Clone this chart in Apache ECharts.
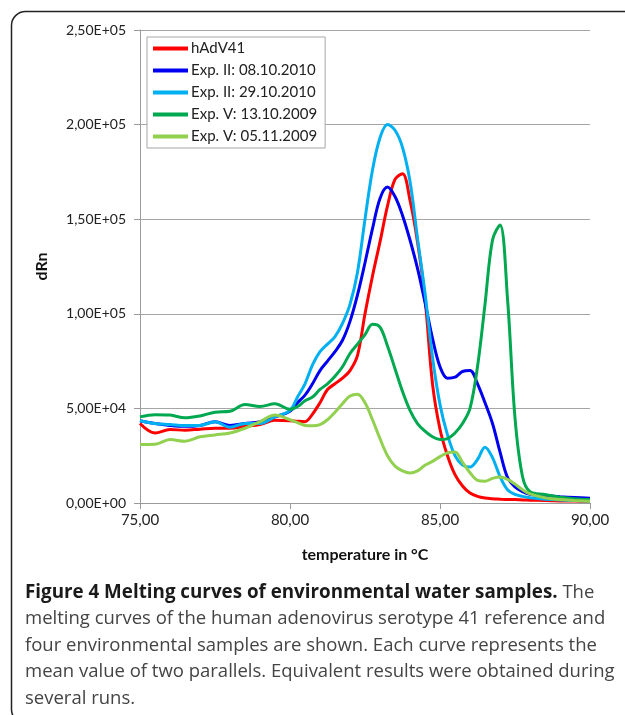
<!DOCTYPE html>
<html>
<head>
<meta charset="utf-8">
<script src="https://cdn.jsdelivr.net/npm/echarts@6/dist/echarts.min.js"></script>
<style>
  html, body { margin: 0; padding: 0; background: #fff; }
  #chart { width: 625px; height: 715px; }
</style>
</head>
<body>
<div id="chart"></div>
<script>
  // temperature grid (°C), shared by every curve
  const temps = [
    75, 75.5, 76, 76.5, 77, 77.5, 78, 78.5, 79, 79.5,
    80, 80.25, 80.5, 80.75, 81, 81.25, 81.5, 81.75, 82, 82.25, 82.5, 82.75,
    83, 83.25, 83.5, 83.75, 84, 84.25, 84.5, 84.75, 85, 85.25, 85.5, 85.75,
    86, 86.25, 86.5, 86.75, 87, 87.25, 87.5, 87.75, 88, 88.5, 89, 89.5, 90
  ];

  const seriesNames = [
    "hAdV41",
    "Exp. II: 08.10.2010",
    "Exp. II: 29.10.2010",
    "Exp. V: 13.10.2009",
    "Exp. V: 05.11.2009"
  ];
  const colorList = ["#ff0000", "#0000f0", "#00b0f0", "#00a850", "#92d050"];

  // dRn values
  const hadv41 = [
    42000, 37000, 38800, 38500, 39000, 39500, 39500, 40500, 41500, 43700,
    43500, 43200, 43000, 47000, 53000, 60000, 63000, 66000, 70000, 78000, 100000, 120000,
    138000, 157000, 171000, 174000, 160000, 138000, 108000, 63000, 39000, 25000, 15000, 9000,
    5300, 3500, 2600, 2200, 2000, 1800, 1800, 1600, 1500, 1300, 1100, 1000, 900
  ];
  const exp2a = [
    43500, 42000, 41000, 40500, 41000, 43000, 41000, 42000, 43000, 45500,
    48500, 53000, 57000, 63000, 70000, 75000, 80000, 86000, 96000, 110000, 127000, 145000,
    161000, 167000, 162000, 152000, 139000, 124000, 106000, 87000, 72000, 66000, 66500, 69500,
    70000, 63000, 53000, 42000, 27000, 13500, 8500, 6000, 4600, 3800, 3300, 2900, 2500
  ];
  const exp2b = [
    43500, 42000, 41500, 41000, 41000, 43000, 40000, 42000, 42000, 45500,
    49000, 56000, 63000, 73000, 80000, 84000, 88000, 95000, 105000, 122000, 150000, 176000,
    193000, 200000, 197000, 188000, 170000, 140000, 111000, 77000, 52000, 36000, 25000, 20000,
    19000, 23000, 29500, 24000, 14000, 7000, 4500, 3500, 2800, 2000, 1600, 1300, 1000
  ];
  const exp5a = [
    45500, 46700, 46500, 45000, 46000, 48000, 48500, 52000, 51000, 52500,
    49500, 51000, 54000, 56000, 60000, 63000, 67000, 72000, 79000, 84000, 89000, 94500,
    93000, 83000, 71000, 59000, 49000, 42000, 38000, 35000, 33500, 34000, 37000, 42000,
    50000, 72000, 105000, 139000, 147000, 108000, 45000, 14000, 6000, 4500, 3000, 2300, 1800
  ];
  const exp5b = [
    30900, 31000, 33500, 32600, 35000, 36000, 37000, 39500, 43000, 46500,
    44000, 42500, 41000, 40800, 41400, 44000, 48000, 52500, 56500, 57500, 53000, 44000,
    34000, 25000, 19500, 17000, 15800, 17000, 20000, 22000, 24500, 26500, 27000, 21500,
    16000, 12000, 11500, 13000, 13700, 12500, 10000, 7000, 4800, 2800, 1800, 1300, 900
  ];
  const yData = [hadv41, exp2a, exp2b, exp5a, exp5b];

  const xTickMin = 75;
  const xTickMax = 90;
  const xTickStep = 5;
  const yTickMax = 250000;
  const yTickStep = 50000;

  const captionLines = [
    "{b|Figure 4 Melting curves of environmental water samples.} The",
    "melting curves of the human adenovirus serotype 41 reference and",
    "four environmental samples are shown. Each curve represents the",
    "mean value of two parallels. Equivalent results were obtained during",
    "several runs."
  ];

  const sciLabel = v => {
    if (v === 0) return "0,00E+00";
    const e = Math.floor(Math.log10(v));
    const m = v / Math.pow(10, e);
    return m.toFixed(2).replace(".", ",") + "E+" + String(e).padStart(2, "0");
  };

  const font = "Lato, 'Liberation Sans', sans-serif";
  const captionFont = "'Open Sans', Lato, sans-serif";

  const options = {
    animation: false,
    color: colorList,
    textStyle: { fontFamily: font },
    grid: { left: 140, right: 35, top: 30, bottom: 212 },
    legend: {
      show: true,
      orient: "vertical",
      left: 147,
      top: 37,
      padding: [4, 8, 4, 6],
      itemGap: 7,
      itemWidth: 35,
      itemHeight: 4,
      icon: "rect",
      borderColor: "#a6a6a6",
      borderWidth: 1,
      backgroundColor: "#fff",
      textStyle: { fontSize: 15, color: "#222", lineHeight: 15, padding: [0, 0, 0, -2] },
      data: seriesNames
    },
    xAxis: {
      type: "value",
      min: xTickMin,
      max: xTickMax,
      interval: xTickStep,
      name: "temperature in °C",
      nameLocation: "middle",
      nameGap: 44,
      nameTextStyle: { fontSize: 16, fontWeight: "bold", color: "#111" },
      axisLine: { show: true, lineStyle: { color: "#9a9a9a" } },
      axisTick: { show: true, length: 6, lineStyle: { color: "#9a9a9a" } },
      axisLabel: {
        fontSize: 15,
        color: "#222",
        margin: 10,
        formatter: v => v.toFixed(2).replace(".", ",")
      },
      splitLine: { show: false }
    },
    yAxis: {
      type: "value",
      min: 0,
      max: yTickMax,
      interval: yTickStep,
      name: "dRn",
      nameLocation: "middle",
      nameGap: 90,
      nameRotate: 90,
      nameTextStyle: { fontSize: 16, fontWeight: "bold", color: "#111" },
      axisLine: { show: true, lineStyle: { color: "#9a9a9a" } },
      axisTick: { show: true, length: 6, lineStyle: { color: "#9a9a9a" } },
      axisLabel: { fontSize: 14, color: "#222", margin: 14, formatter: sciLabel },
      splitLine: { show: true, lineStyle: { color: "#a6a6a6", width: 1 } }
    },
    series: seriesNames.map((name, k) => ({
      name: name,
      type: "line",
      data: temps.map((t, i) => [t, yData[k][i]]),
      smooth: 0.35,
      showSymbol: false,
      symbol: "none",
      lineStyle: { width: 3, color: colorList[k] },
      itemStyle: { color: colorList[k] }
    })),
    graphic: [
      {
        type: "rect",
        left: 9,
        top: 9,
        shape: { width: 700, height: 712, r: 14 },
        style: { fill: "none", stroke: "#222", lineWidth: 1.5 },
        silent: true
      },
      {
        type: "text",
        left: 25,
        top: 579,
        style: {
          text: captionLines.join("\n"),
          fontFamily: captionFont,
          fontSize: 18.5,
          lineHeight: 26.5,
          fill: "#444",
          rich: {
            b: { fontFamily: captionFont, fontSize: 18.8, fontWeight: "bold", lineHeight: 26.5, fill: "#1a1a1a" }
          }
        },
        silent: true
      }
    ]
  };

  const myChart = echarts.init(document.getElementById("chart"));
  myChart.setOption(options);
</script>
</body>
</html>
